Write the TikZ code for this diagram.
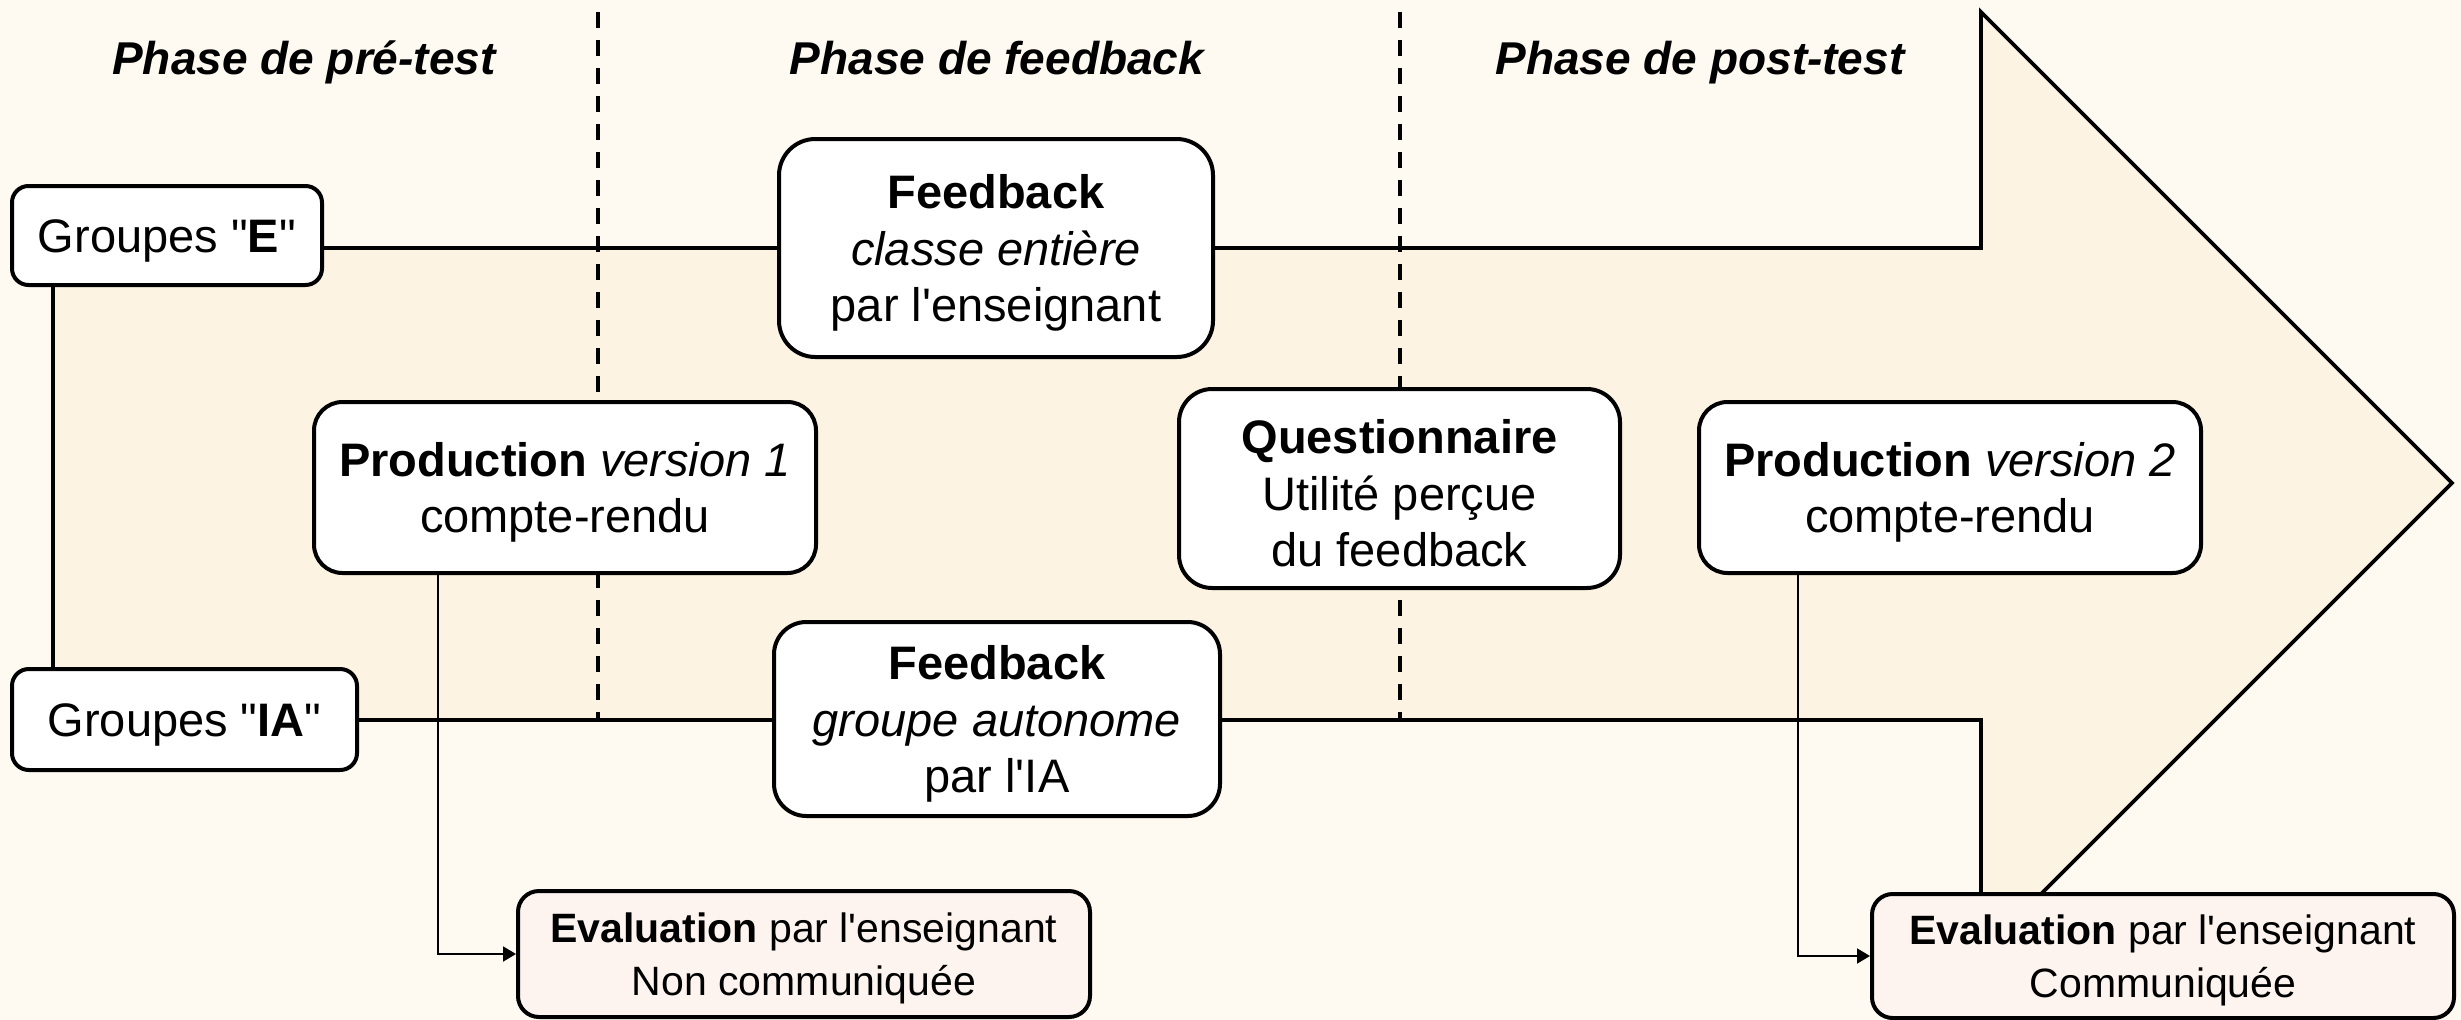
\documentclass[tikz,border=0pt]{standalone}
\usepackage{fontspec}
\newfontfamily\diagfont{Liberation Sans}
\usetikzlibrary{arrows.meta}
\definecolor{pagebg}{HTML}{FEFAF2}
\definecolor{arrowfill}{HTML}{FDF3E3}
\definecolor{evalfill}{HTML}{FDF4EF}
% invisible struts that give the first text line a little extra room on top
\newcommand\lift{\rule{0pt}{13.2pt}}
\newcommand\liftsm{\rule{0pt}{11.7pt}}
\tikzset{
  sz/.style 2 args={minimum width=#1*0.3pt, minimum height=#2*0.3pt, rounded corners=#2*0.05pt},
  boxbase/.style={draw=black, line width=1.2pt, fill=white, align=center, inner sep=0pt},
  box/.style={boxbase, font=\diagfont\fontsize{14.1}{17}\selectfont},
  evalbox/.style={boxbase, fill=evalfill, font=\diagfont\fontsize{12.3}{15.8}\selectfont},
  phase/.style={font=\diagfont\fontsize{13.8}{16}\selectfont\bfseries\itshape, anchor=base},
  outline/.style={line width=1.15pt, line join=miter},
  divider/.style={line width=1.1pt, dash pattern=on 4.8pt off 3.6pt},
  conn/.style={line width=0.55pt, -{Triangle[length=3.9pt,width=4.5pt]}}
}
\begin{document}
\begin{tikzpicture}[x=0.3pt,y=-0.3pt]
  % page
  \fill[pagebg] (0,0) rectangle (2461,1020);
  \useasboundingbox (0,0) rectangle (2461,1020);

  % the big timeline arrow
  \coordinate (bodyTL) at (53,248);
  \coordinate (bodyTR) at (1981,248);
  \coordinate (headT)  at (1981,12);
  \coordinate (tip)    at (2452,483);
  \coordinate (headB)  at (1981,954);
  \coordinate (bodyBR) at (1981,720);
  \coordinate (bodyBL) at (53,720);
  \fill[arrowfill] (bodyTL) -- (bodyTR) -- (headT) -- (tip) -- (headB) -- (bodyBR) -- (bodyBL) -- cycle;
  \draw[outline] (bodyTL) -- (bodyTR) -- (headT) -- (tip) -- (headB) -- (bodyBR) -- (bodyBL) -- cycle;

  % phase separators
  \coordinate (sep1t) at (598,12);
  \coordinate (sep1b) at (598,720);
  \coordinate (sep2t) at (1400,12);
  \coordinate (sep2b) at (1400,720);
  \draw[divider] (sep1t) -- (sep1b);
  \draw[divider] (sep2t) -- (sep2b);

  % phase titles
  \node[phase] (ph1) at (304,74) {Phase de pré-test};
  \node[phase] (ph2) at (997,74) {Phase de feedback};
  \node[phase] (ph3) at (1700,74) {Phase de post-test};

  % boxes
  \node[box, sz={310}{99}]  (gE)    at (167,235.5)  {\lift Groupes "\textbf{E}"};
  \node[box, sz={345}{101}] (gIA)   at (184.5,719.5) {\lift Groupes "\textbf{IA}"};
  \node[box, sz={434}{218}] (fbE)   at (996,248)    {\lift\textbf{Feedback}\\\textit{classe entière}\\par l'enseignant};
  \node[box, sz={502}{171}] (prod1) at (565,487.5)  {\lift\textbf{Production} \textit{version 1}\\compte-rendu};
  \node[box, sz={441}{199}] (quest) at (1399.5,488.5) {\lift\textbf{Questionnaire}\\Utilité perçue\\du feedback};
  \node[box, sz={502}{171}] (prod2) at (1950,487.5) {\lift\textbf{Production} \textit{version 2}\\compte-rendu};
  \node[box, sz={446}{194}] (fbIA)  at (997,719)    {\lift\textbf{Feedback}\\\textit{groupe autonome}\\par l'IA};
  \node[evalbox, sz={572}{126}] (ev1) at (804,954)  {\liftsm\textbf{Evaluation} par l'enseignant\\Non communiquée};
  \node[evalbox, sz={582}{124}] (ev2) at (2163,956) {\liftsm\textbf{Evaluation} par l'enseignant\\Communiquée};

  % evaluation links
  \draw[conn] ([xshift=-38.1pt]prod1.south) |- (ev1.west);
  \draw[conn] ([xshift=-45.6pt]prod2.south) |- (ev2.west);
\end{tikzpicture}
\end{document}
